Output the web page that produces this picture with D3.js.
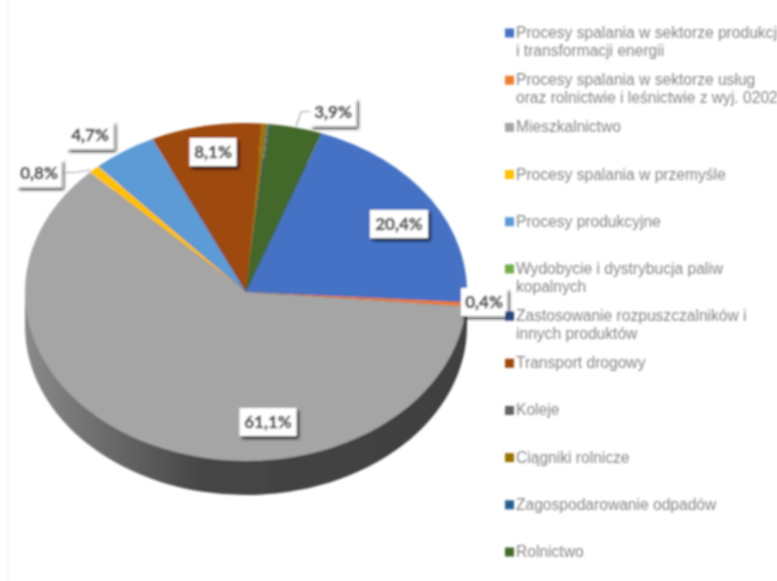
<!DOCTYPE html>
<html lang="pl">
<head>
<meta charset="UTF-8">
<title>Udział źródeł emisji</title>
<script src="https://d3js.org/d3.v7.min.js"></script>
<style>
    html, body { margin: 0; padding: 0; background: #fff; overflow: hidden; }
    svg { display: block; }
    .legend text { font-family: "Liberation Sans", Arial, sans-serif; font-size: 15.6px; fill: #858585; }
    .tag text { font-family: Lato, "Open Sans", sans-serif; font-size: 17px; font-weight: 700; fill: #505050; stroke: #505050; stroke-width: 0.5px; text-anchor: middle; }
</style>
</head>
<body>
<svg width="777" height="581"></svg>
<script>
// values, share in percent
const categories = [
    ['Procesy spalania w sektorze produkcji', 'i transformacji energii'],
    ['Procesy spalania w sektorze usług', 'oraz rolnictwie i leśnictwie z wyj. 0202'],
    ['Mieszkalnictwo'],
    ['Procesy spalania w przemyśle'],
    ['Procesy produkcyjne'],
    ['Wydobycie i dystrybucja paliw', 'kopalnych'],
    ['Zastosowanie rozpuszczalników i', 'innych produktów'],
    ['Transport drogowy'],
    ['Koleje'],
    ['Ciągniki rolnicze'],
    ['Zagospodarowanie odpadów'],
    ['Rolnictwo']
];
const values = [20.4, 0.4, 61.1, 0.8, 4.7, 0, 0, 8.1, 0, 0.4, 0.1, 3.9];
const colors = ['#4472c4', '#ed7d31', '#a5a5a5', '#ffc000', '#5b9bd5', '#70ad47',
    '#264478', '#9e480e', '#636363', '#997300', '#255e91', '#43682b'];

// label boxes: [slice index, text, box centre x, box centre y, box width]
const tags = [
    [0, '20,4%', 399, 224, 58],
    [1, '0,4%', 484, 302, 46],
    [2, '61,1%', 268, 422, 57],
    [3, '0,8%', 39, 173, 45],
    [4, '4,7%', 90, 135, 47],
    [7, '8,1%', 213, 152, 47],
    [11, '3,9%', 333, 112, 46]
];
const leaders = [
    [[63, 173], [78, 172], [91, 170]],
    [[296, 127], [301, 112], [311, 111]]
];

const svg = d3.select('svg');
const cx = 246, cy = 292, rx = 221, ry = 169, depth = 34;
const tilt = `translate(${cx},${cy}) scale(1,${ry / rx})`;

const defs = svg.append('defs');
const wallGrad = defs.append('linearGradient').attr('id', 'wall');
wallGrad.append('stop').attr('offset', '0%').attr('stop-color', '#8a8a8a');
wallGrad.append('stop').attr('offset', '40%').attr('stop-color', '#454545');
wallGrad.append('stop').attr('offset', '100%').attr('stop-color', '#404040');

// the reference is a soft upscaled screenshot
const soft = defs.append('filter').attr('id', 'soft');
soft.append('feGaussianBlur').attr('stdDeviation', 0.8);

const shadow = defs.append('filter').attr('id', 'shadow')
    .attr('x', '-20%').attr('y', '-20%').attr('width', '150%').attr('height', '170%');
shadow.append('feDropShadow').attr('dx', 2.5).attr('dy', 3).attr('stdDeviation', 1.4)
    .attr('flood-color', '#000').attr('flood-opacity', 0.7);

const root = svg.append('g').attr('filter', 'url(#soft)');

root.append('line').attr('x1', 8.5).attr('x2', 8.5).attr('y1', 0).attr('y2', 581)
    .attr('stroke', '#efefef');

// pie side wall: band plus a lowered copy of the ellipse
const disc = d3.arc().innerRadius(0).outerRadius(rx);
root.append('rect')
    .attr('x', cx - rx).attr('y', cy)
    .attr('width', rx * 2).attr('height', depth)
    .attr('fill', 'url(#wall)');
root.append('path')
    .attr('transform', `translate(${cx},${cy + depth}) scale(1,${ry / rx})`)
    .attr('d', disc({ startAngle: 0, endAngle: 2 * Math.PI }))
    .attr('fill', 'url(#wall)');

// top of the pie, starts a bit past 12 o'clock
const start = 20 * Math.PI / 180;
const pie = d3.pie().sort(null).startAngle(start).endAngle(start + 2 * Math.PI);
root.append('g').attr('transform', tilt)
    .selectAll('path')
    .data(pie(values))
    .join('path')
    .attr('d', disc)
    .attr('fill', (d, i) => colors[i]);

root.selectAll('.leader')
    .data(leaders)
    .join('path')
    .attr('class', 'leader')
    .attr('d', d3.line())
    .attr('fill', 'none')
    .attr('stroke', '#a6a6a6')
    .attr('stroke-width', 1.2);

const tag = root.selectAll('.tag')
    .data(tags)
    .join('g')
    .attr('class', 'tag')
    .attr('transform', d => `translate(${d[2]},${d[3]})`);
tag.append('rect')
    .attr('x', d => -d[4] / 2).attr('y', -14)
    .attr('width', d => d[4]).attr('height', 28)
    .attr('fill', '#fff')
    .attr('filter', 'url(#shadow)');
tag.append('text').attr('dy', 6).text(d => d[1]);

// legend
const legendY = d3.scalePoint().domain(d3.range(categories.length)).range([33, 552]);
const item = root.append('g').attr('class', 'legend')
    .selectAll('g')
    .data(categories)
    .join('g')
    .attr('transform', (d, i) => `translate(505,${legendY(i)})`);
item.append('rect')
    .attr('y', -4.5).attr('width', 9).attr('height', 9)
    .attr('fill', (d, i) => colors[i]);
item.selectAll('text')
    .data(d => d)
    .join('text')
    .attr('x', 11)
    .attr('y', (d, i) => 5 + i * 18)
    .text(d => d);
</script>
</body>
</html>
